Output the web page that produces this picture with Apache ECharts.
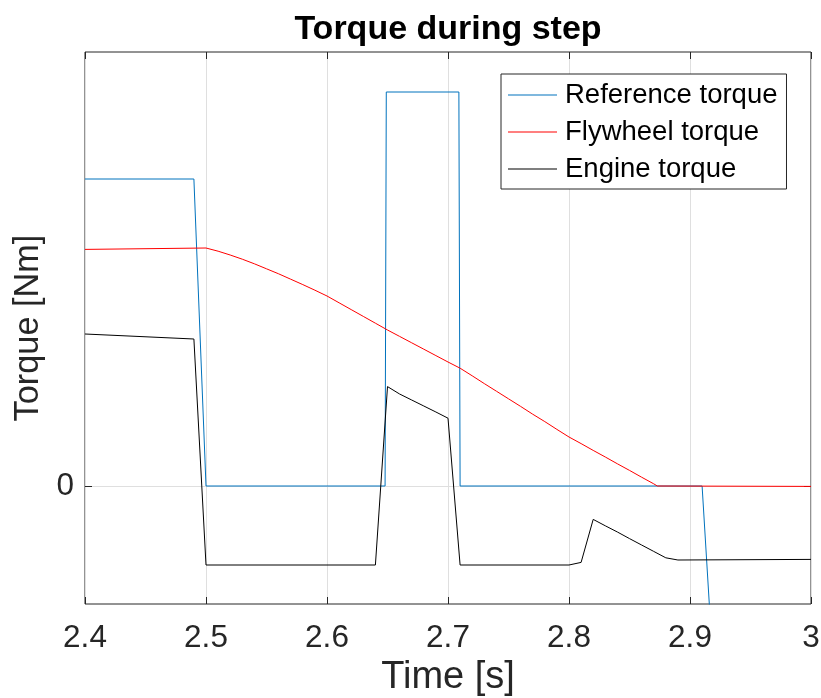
<!DOCTYPE html>
<html>
<head>
<meta charset="utf-8">
<script src="https://cdn.jsdelivr.net/npm/echarts@6/dist/echarts.min.js"></script>
<style>
  html, body { margin: 0; padding: 0; background: #fff; }
  #main { width: 821px; height: 698px; }
</style>
</head>
<body>
<div id="main"></div>
<script>
// x轴刻度
var xTicks = [2.4, 2.5, 2.6, 2.7, 2.8, 2.9, 3];
// y轴刻度（只有0）
var yTicks = [0];

// Reference torque
var refTime = [2.4, 2.49, 2.5, 2.648, 2.649, 2.709, 2.71, 2.91, 2.92];
var refTorque = [153.5, 153.5, 0, 0, 197, 197, 0, 0, -99];

// Flywheel torque
var flyTime = [2.4, 2.5, 2.51, 2.52, 2.53, 2.54, 2.55, 2.56, 2.57, 2.58, 2.59,
  2.6, 2.61, 2.62, 2.63, 2.64, 2.65, 2.66, 2.67, 2.68, 2.69,
  2.7, 2.71, 2.72, 2.73, 2.74, 2.75, 2.76, 2.77, 2.78, 2.79,
  2.8, 2.81, 2.82, 2.83, 2.84, 2.85, 2.86, 2.87, 2.873, 3];
var flyTorque = [118.3, 119.0, 117.4, 115.5, 113.4, 111.1, 108.6, 106.1, 103.4, 100.7, 97.9,
  95, 91.6, 88.2, 84.8, 81.4, 78, 74.8, 71.6, 68.4, 65.2,
  62, 58.9, 55.1, 51.2, 47.4, 43.6, 39.8, 35.9, 32.2, 28.3,
  24.5, 21.2, 17.8, 14.5, 11.1, 7.8, 4.4, 1.1, 0, -0.2];

// Engine torque
var engTime = [2.4, 2.49, 2.5, 2.64, 2.65, 2.66, 2.67, 2.68, 2.69, 2.7, 2.71,
  2.8, 2.81, 2.82, 2.83, 2.84, 2.85, 2.86, 2.87, 2.88, 2.89, 3];
var engTorque = [76, 73.5, -39.5, -39.5, 49.7, 46, 43, 40, 37, 33.9, -39.5,
  -39.5, -38.2, -16.7, -19.9, -23, -26.3, -29.5, -32.7, -35.9, -37, -36.7];

// y轴范围
var yMin = -59;
var yMax = 217;

function toPairs(t, v) {
  var out = [];
  for (var i = 0; i < t.length; i++) {
    out.push([t[i], v[i]]);
  }
  return out;
}

var fontName = "'Liberation Sans', Arial, Helvetica, sans-serif";
var axisColor = "#262626";
var gridColor = "#dfdfdf";

var myChart = echarts.init(document.getElementById("main"));
var option = {
  animation: false,
  backgroundColor: "#fff",
  textStyle: { fontFamily: fontName },
  grid: {
    left: 85,
    right: 10,
    top: 52,
    bottom: 94,
    show: true,
    borderColor: axisColor,
    borderWidth: 1,
    backgroundColor: "transparent",
    containLabel: false,
    outerBoundsMode: "none",
  },
  legend: {
    orient: "vertical",
    left: 501,
    top: 74,
    padding: [5, 9, 4, 7],
    icon: "rect",
    itemWidth: 49,
    itemHeight: 1,
    itemGap: 5,
    backgroundColor: "#fff",
    borderColor: axisColor,
    borderWidth: 1,
    borderRadius: 0,
    textStyle: {
      fontFamily: fontName,
      fontSize: 27.5,
      color: "#000",
      lineHeight: 32,
      padding: [0, 0, 0, 3],
    },
    data: ["Reference torque", "Flywheel torque", "Engine torque"],
  },
  xAxis: [
    {
      type: "value",
      position: "bottom",
      min: xTicks[0],
      max: xTicks[xTicks.length - 1],
      interval: 0.1,
      name: "Time [s]",
      nameLocation: "middle",
      nameGap: 49,
      nameTextStyle: { fontFamily: fontName, fontSize: 38, color: axisColor },
      axisLine: { show: false, onZero: false },
      axisTick: { show: true, inside: true, length: 7, lineStyle: { color: axisColor } },
      axisLabel: {
        margin: 18,
        fontFamily: fontName,
        fontSize: 31.5,
        color: axisColor,
        showMinLabel: true,
        showMaxLabel: true,
      },
      splitLine: { show: true, lineStyle: { color: gridColor, width: 1 } },
    },
    {
      type: "value",
      position: "top",
      min: xTicks[0],
      max: xTicks[xTicks.length - 1],
      interval: 0.1,
      name: "Torque during step",
      nameLocation: "middle",
      nameGap: 5,
      nameTextStyle: { fontFamily: fontName, fontSize: 34, fontWeight: "bold", color: "#000" },
      axisLine: { show: false, onZero: false },
      axisTick: { show: true, inside: true, length: 7, lineStyle: { color: axisColor } },
      axisLabel: { show: false },
      splitLine: { show: false },
    },
  ],
  yAxis: [
    {
      type: "value",
      position: "left",
      min: yMin,
      max: yMax,
      name: "Torque [Nm]",
      nameLocation: "middle",
      nameGap: 28,
      nameTextStyle: { fontFamily: fontName, fontSize: 34.3, color: axisColor },
      axisLine: { show: false, onZero: false },
      axisTick: { show: true, inside: true, length: 7, customValues: yTicks, lineStyle: { color: axisColor } },
      axisLabel: { margin: 11, fontFamily: fontName, fontSize: 31.5, color: axisColor, customValues: yTicks },
      splitLine: { show: true, lineStyle: { color: gridColor, width: 1 } },
    },
    {
      type: "value",
      position: "right",
      min: yMin,
      max: yMax,
      axisLine: { show: false, onZero: false },
      axisTick: { show: true, inside: true, length: 7, customValues: yTicks, lineStyle: { color: axisColor } },
      axisLabel: { show: false, customValues: yTicks },
      splitLine: { show: false },
    },
  ],
  series: [
    {
      name: "Reference torque",
      type: "line",
      data: toPairs(refTime, refTorque),
      symbol: "none",
      clip: true,
      color: "#0072bd",
      lineStyle: { color: "#0072bd", width: 1 },
      emphasis: { disabled: true },
    },
    {
      name: "Flywheel torque",
      type: "line",
      data: toPairs(flyTime, flyTorque),
      symbol: "none",
      clip: true,
      color: "#ff0000",
      lineStyle: { color: "#ff0000", width: 1 },
      emphasis: { disabled: true },
    },
    {
      name: "Engine torque",
      type: "line",
      data: toPairs(engTime, engTorque),
      symbol: "none",
      clip: true,
      color: "#000000",
      lineStyle: { color: "#000000", width: 1 },
      emphasis: { disabled: true },
    },
  ],
};
myChart.setOption(option);
window.addEventListener("resize", function () {
  myChart.resize();
});
</script>
</body>
</html>
